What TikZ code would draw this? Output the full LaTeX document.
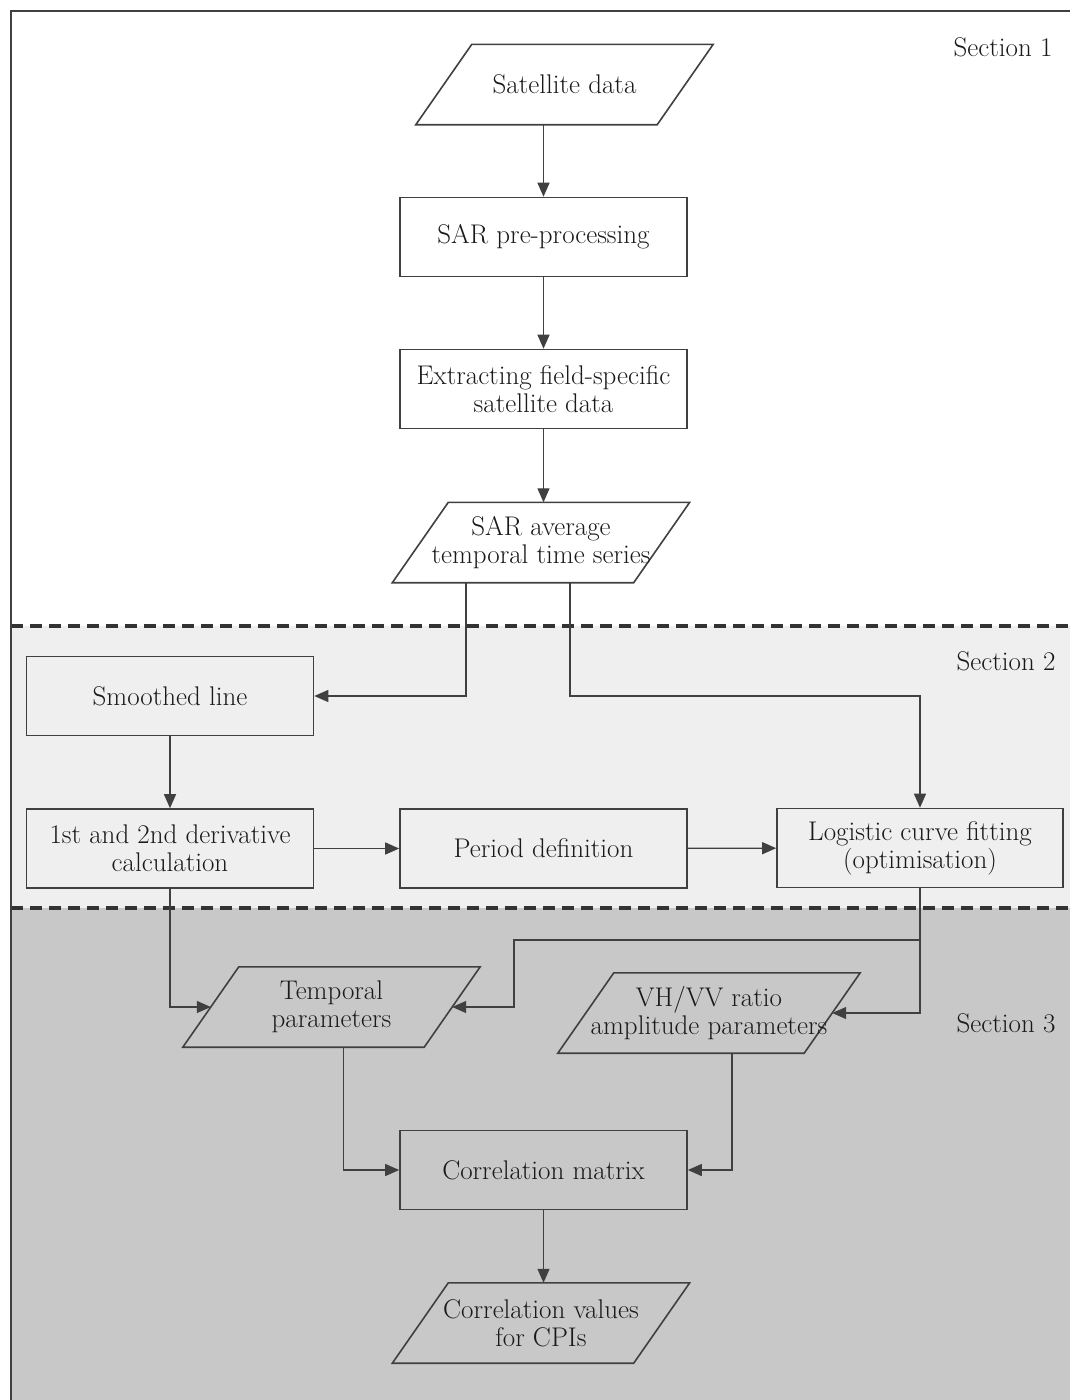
\documentclass[tikz,border=0pt]{standalone}
\usepackage{fontspec}
\usepackage{tikz}
\usetikzlibrary{positioning,arrows.meta}
\definecolor{edgegray}{HTML}{404040}
\definecolor{secbtwo}{HTML}{EFEFEF}
\definecolor{secbthree}{HTML}{C8C8C8}
\definecolor{inkgray}{HTML}{1A1A1A}

\begin{document}
\begin{tikzpicture}[
  x=1pt, y=-1pt,
  font=\fontsize{27}{28}\selectfont,
  text=inkgray,
  proc/.style={rectangle, draw=edgegray, line width=1.6pt, minimum width=287pt, minimum height=79pt, align=center, inner sep=2pt},
  iobord/.style={draw=edgegray, line width=1.6pt},
  io/.style={rectangle, minimum width=241pt, minimum height=80pt, align=center, inner sep=2pt,
    append after command={\pgfextra{\draw[iobord] ([xshift=28pt]\tikzlastnode.north west)
      -- ([xshift=28pt]\tikzlastnode.north east) -- ([xshift=-28pt]\tikzlastnode.south east)
      -- ([xshift=-28pt]\tikzlastnode.south west) -- cycle;}}},
  arr/.style={draw=edgegray, line width=1.3pt, -{Triangle[length=14pt,width=12pt]}},
  sepline/.style={draw=black!80, line width=3.5pt, dash pattern=on 12pt off 7pt},
  sec/.style={anchor=center, inner sep=0pt}]
\useasboundingbox (0,0) rectangle (1070,1400);

% section backgrounds
\fill[secbtwo] (11,626) rectangle (1070,908);
\fill[secbthree] (11,908) rectangle (1070,1400);
\draw[sepline] (11,626) -- (1070,626);
\draw[sepline] (11,908) -- (1070,908);
\draw[edgegray, line width=2.6pt] (1070,11) -- (11,11) -- (11,1400);

\node[sec] (s1) at (1003,47) {Section 1};
\node[sec] (s2) at (1006,661) {Section 2};
\node[sec] (s3) at (1006,1023) {Section 3};

% section 1
\node[io] (sd) at (564.5,84.5) {Satellite data};
\node[proc] (spp) at (543.5,237) {SAR pre-processing};
\node[proc] (ext) at (543.5,389) {Extracting field-specific\\satellite data};
\node[io] (sav) at (541,542.5) {SAR average\\temporal time series};

% section 2
\node[proc] (sm) at (170,696) {Smoothed line};
\node[proc] (dv) at (170,848.5) {1st and 2nd derivative\\calculation};
\node[proc] (pd) at (543.5,848.5) {Period definition};
\node[proc, minimum width=286pt] (lg) at (920,848) {Logistic curve fitting\\(optimisation)};

% section 3
\node[io] (tp) at (331.5,1007) {Temporal\\parameters};
\node[io, minimum width=246pt] (vh) at (709,1013) {VH/VV ratio\\amplitude parameters};
\node[proc] (cm) at (543.5,1170) {Correlation matrix};
\node[io] (cv) at (541,1323) {Correlation values\\for CPIs};

\coordinate (jog) at (514,940);

% connectors
\draw[arr] (spp.north |- sd.south) -- (spp.north);
\draw[arr] (spp) -- (ext);
\draw[arr] (ext.south) -- (ext.south |- sav.north);
\draw[arr] ([xshift=-75pt]sav.south) |- (sm.east);
\draw[arr] ([xshift=29pt]sav.south) |- (lg.north |- sm.east) -- (lg.north);
\draw[arr] (sm) -- (dv);
\draw[arr] (dv) -- (pd);
\draw[arr] (pd) -- (lg);
\draw[arr] (dv.south) |- (tp.west);
\draw[arr] (lg.south) |- (jog) |- (tp.east);
\draw[arr] (lg.south) |- (vh.east);
\draw[arr] ([xshift=12pt]tp.south) |- (cm.west);
\draw[arr] ([xshift=23pt]vh.south) |- (cm.east);
\draw[arr] (cm.south) -- (cm.south |- cv.north);
\end{tikzpicture}
\end{document}
